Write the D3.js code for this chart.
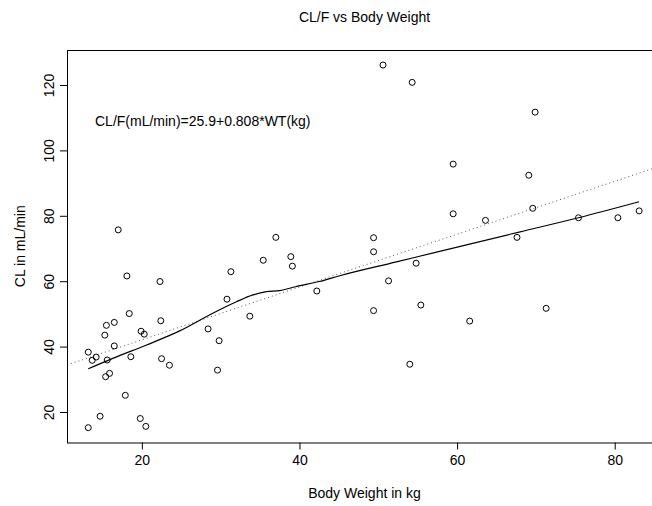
<!DOCTYPE html>
<html><head><meta charset="utf-8">
<script src="https://cdn.jsdelivr.net/npm/d3@7"></script>
<style>
body{margin:0;background:#fff;}
text{font-family:"Liberation Sans",Arial,Helvetica,sans-serif;font-size:14px;fill:#000;}
</style></head>
<body><svg id="chart" width="652" height="506"></svg>
<script>
// Body weight (kg) and CL/F (mL/min) observations
const weight = [22.3,13.2,13.7,14.2,15.6,15.3,15.5,16.5,16.5,15.4,15.9,14.7,13.2,18.4,17.9,18.6,19.9,20.3,19.8,20.5,
  22.4,22.5,23.5,28.4,29.8,29.6,30.8,33.7,37.0,31.3,35.4,38.9,39.1,42.2,49.4,49.4,49.4,50.6,54.3,69.9,
  59.5,69.1,59.5,63.6,69.6,75.4,80.4,83.1,67.6,54.8,51.3,55.4,61.6,71.3,54.0,17.0,18.1];
const clearance = [59.9,38.3,35.8,36.8,35.9,43.5,46.5,47.4,40.2,30.8,31.8,18.7,15.2,50.1,25.1,36.9,44.7,43.8,18.0,15.6,
  47.9,36.3,34.3,45.4,41.8,32.8,54.5,49.3,73.4,62.9,66.4,67.5,64.6,57.0,73.3,69.0,51.0,126.1,120.8,111.7,
  95.8,92.4,80.6,78.6,82.3,79.4,79.4,81.5,73.4,65.5,60.1,52.7,47.8,51.7,34.6,75.7,61.6];
// Smoother (loess)
const smoothWT = [13.2,16.3,20.6,24.8,29.0,32.0,34.1,35.8,37.5,39.5,42.5,45.0,52.3,60.8,68.0,75.4,83.1];
const smoothCL = [33.2,36.4,40.5,44.8,50.2,53.7,55.8,56.8,57.1,58.3,59.9,61.6,65.9,70.9,75.1,79.4,84.3];
// Linear regression
const intercept = 25.9, slope = 0.808;
const xTicks = [20,40,60,80];
const yTicks = [20,40,60,80,100,120];
const title = "CL/F vs Body Weight";
const xLabel = "Body Weight in kg";
const yLabel = "CL in mL/min";
const annotation = "CL/F(mL/min)=25.9+0.808*WT(kg)";

const svg = d3.select("#chart");
const L = 67, T = 50, B = 442.5, R = 662;
const x = d3.scaleLinear().domain([10.5, 86.0]).range([L, R]);
const y = d3.scaleLinear().domain([10.67, 130.7]).range([B, T]);

const defs = svg.append("defs");
defs.append("clipPath").attr("id","clip").append("rect")
  .attr("x",L).attr("y",T).attr("width",R-L).attr("height",B-T);

// regression line (dotted)
const xd = x.domain();
svg.append("line").attr("clip-path","url(#clip)")
  .attr("x1",x(xd[0])).attr("y1",y(intercept+slope*xd[0]))
  .attr("x2",x(xd[1])).attr("y2",y(intercept+slope*xd[1]))
  .attr("stroke","#555").attr("stroke-width",1).attr("stroke-dasharray","1,3");

// smoother
const sm = smoothWT.map((w,i)=>[w,smoothCL[i]]);
svg.append("path").datum(sm)
  .attr("d", d3.line().x(d=>x(d[0])).y(d=>y(d[1])).curve(d3.curveMonotoneX))
  .attr("fill","none").attr("stroke","#000").attr("stroke-width",1.2);

// points
svg.append("g").selectAll("circle").data(weight.map((w,i)=>[w,clearance[i]])).join("circle")
  .attr("cx",d=>x(d[0])).attr("cy",d=>y(d[1])).attr("r",3)
  .attr("fill","none").attr("stroke","#000").attr("stroke-width",1);

// box
svg.append("rect").attr("x",L+0.5).attr("y",T+0.5).attr("width",R-L).attr("height",B-T)
  .attr("fill","none").attr("stroke","#000").attr("stroke-width",1);

// axes
const xAxis = d3.axisBottom(x).tickValues(xTicks).tickSize(7).tickPadding(6).tickFormat(d3.format("d"));
const gx = svg.append("g").attr("transform",`translate(0,${B})`).call(xAxis);
gx.select(".domain").remove();
gx.selectAll("text").style("font-size","14px").attr("fill","#000");

const yAxis = d3.axisLeft(y).tickValues(yTicks).tickSize(7).tickFormat(d3.format("d"));
const gy = svg.append("g").attr("transform",`translate(${L},0)`).call(yAxis);
gy.select(".domain").remove();
gy.selectAll(".tick text").attr("x",null).attr("dy",null)
  .attr("transform","translate(-13.5,0) rotate(-90)")
  .attr("text-anchor","middle").style("font-size","14px").attr("fill","#000");

// titles
svg.append("text").attr("x",(L+R)/2).attr("y",22).attr("text-anchor","middle").text(title);
svg.append("text").attr("x",(L+R)/2).attr("y",498).attr("text-anchor","middle").text(xLabel);
svg.append("text").attr("transform",`translate(25,${(T+B)/2}) rotate(-90)`).attr("text-anchor","middle").text(yLabel);
svg.append("text").attr("x",95).attr("y",125.5).text(annotation);
</script></body></html>
